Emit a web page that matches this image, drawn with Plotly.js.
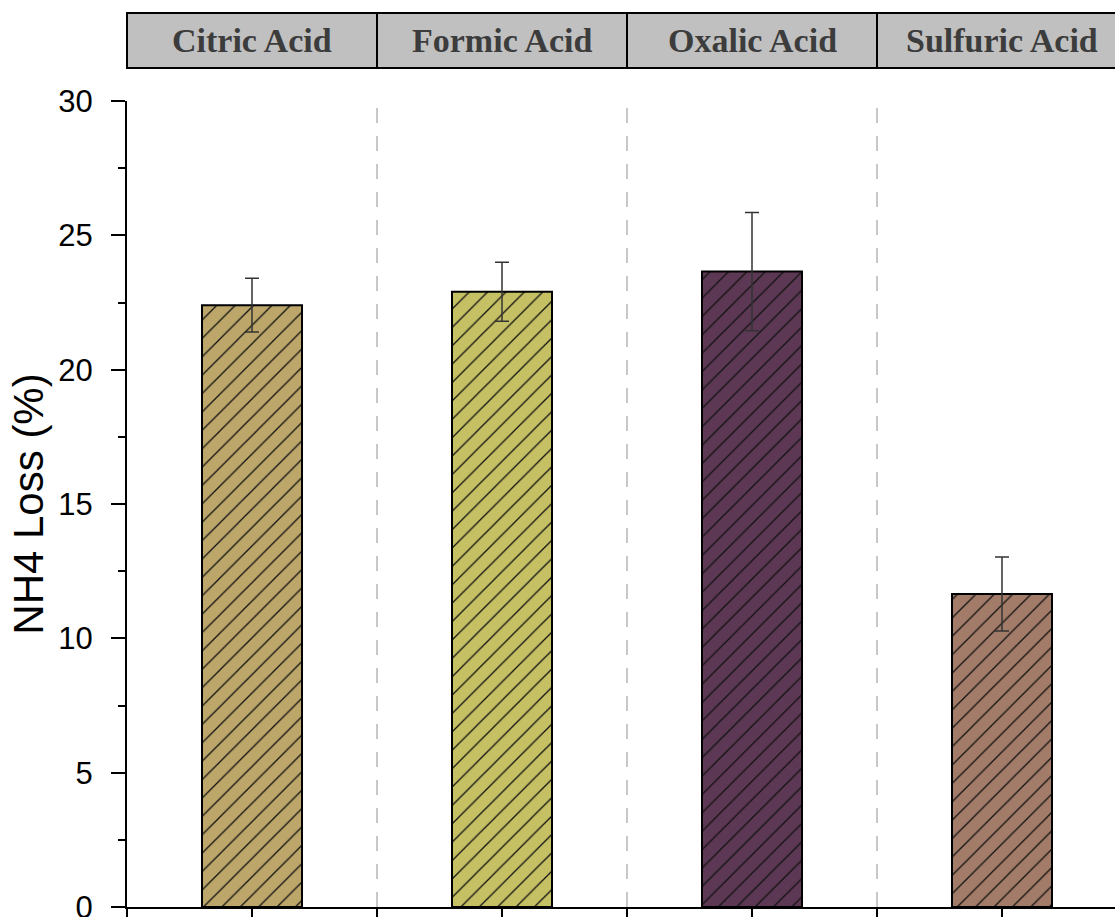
<!DOCTYPE html>
<html>
<head>
<meta charset="utf-8">
<script src="https://cdn.plot.ly/plotly-3.0.1.min.js"></script>
<style>
  html, body { margin: 0; padding: 0; overflow: hidden; background: #fff; }
  #chart { width: 1140px; height: 917px; }
</style>
</head>
<body>
<div id="chart"></div>
<script>
// NH4 loss for each acid treatment (mean and error)
const acids = ['Citric Acid', 'Formic Acid', 'Oxalic Acid', 'Sulfuric Acid'];
const nh4Loss = [22.40, 22.90, 23.65, 11.65];
const nh4Err = [1.0, 1.1, 2.2, 1.38];
const barColors = ['#bca66a', '#c6c064', '#5c3854', '#a37c69'];

const n = acids.length;

// Hatched bars: the fill colour is the pattern background, hatch lines are dark
const bars = {
  type: 'bar',
  x: acids,
  y: nh4Loss,
  width: 0.4,
  marker: {
    line: { color: '#000', width: 2 },
    pattern: {
      shape: '/', fillmode: 'replace',
      fgcolor: '#111', bgcolor: barColors, fgopacity: 1,
      size: 13, solidity: 0.1
    }
  },
  error_y: {
    type: 'data', array: nh4Err, visible: true,
    color: '#333', thickness: 1.5, width: 7
  },
  hoverinfo: 'x+y'
};

// Header strip: one grey box per category above the plot
const shapes = [];
const annotations = [];
acids.forEach((name, i) => {
  shapes.push({
    type: 'rect', xref: 'paper', yref: 'paper',
    x0: i / n, x1: (i + 1) / n, y0: 1.0409, y1: 1.1092,
    fillcolor: '#c0c0c0', line: { color: '#000', width: 2 }
  });
  annotations.push({
    x: name, xref: 'x', y: 1.075, yref: 'paper',
    text: '<b>' + name + '</b>', showarrow: false,
    xanchor: 'center', yanchor: 'middle',
    font: { family: 'Liberation Serif, Times New Roman, serif', size: 34, color: '#3c3c3c' }
  });
  // dashed separators between categories
  if (i > 0) {
    shapes.push({
      type: 'line', xref: 'paper', yref: 'paper',
      x0: i / n, x1: i / n, y0: 0, y1: 1,
      line: { color: '#c8c8c8', width: 2, dash: '15px,13px' },
      layer: 'below'
    });
  }
});

// Ticks on the category axis at centres and boundaries
const xTicks = [];
for (let v = -0.5; v <= n - 0.5 + 1e-9; v += 0.5) xTicks.push(v);

const layout = {
  width: 1140, height: 917,
  margin: { l: 127, r: 13, t: 101, b: 10 },
  paper_bgcolor: '#fff', plot_bgcolor: '#fff',
  showlegend: false,
  font: { family: 'Arial, Liberation Sans, sans-serif', color: '#000' },
  xaxis: {
    type: 'category', range: [-0.5, n - 0.5],
    showgrid: false, zeroline: false,
    showline: true, linecolor: '#000', linewidth: 2,
    ticks: 'outside', ticklen: 8, tickwidth: 2, tickcolor: '#000',
    tickmode: 'array', tickvals: xTicks, ticktext: xTicks.map(() => ''),
    showticklabels: false
  },
  yaxis: {
    range: [0, 30], dtick: 5, tick0: 0,
    showgrid: false, zeroline: false,
    showline: true, linecolor: '#000', linewidth: 2,
    ticks: 'outside', ticklen: 14, tickwidth: 2, tickcolor: '#000',
    minor: { dtick: 2.5, ticks: 'outside', ticklen: 7, tickwidth: 2, tickcolor: '#000' },
    tickfont: { size: 31, family: 'Arial, Liberation Sans, sans-serif' },
    ticklabelstandoff: 12,
    ticklabeloverflow: 'allow',
    title: { text: 'NH4 Loss (%)', font: { size: 42, family: 'Arial, Liberation Sans, sans-serif' }, standoff: 2 }
  },
  yaxis2: {
    overlaying: 'y', side: 'right', anchor: 'x',
    range: [0, 30], dtick: 5, tick0: 0,
    showgrid: false, zeroline: false,
    showline: true, linecolor: '#000', linewidth: 2,
    ticks: 'inside', ticklen: 14, tickwidth: 2, tickcolor: '#000',
    showticklabels: false
  },
  shapes: shapes,
  annotations: annotations
};

Plotly.newPlot('chart', [bars], layout, { displayModeBar: false, staticPlot: true });
</script>
</body>
</html>
